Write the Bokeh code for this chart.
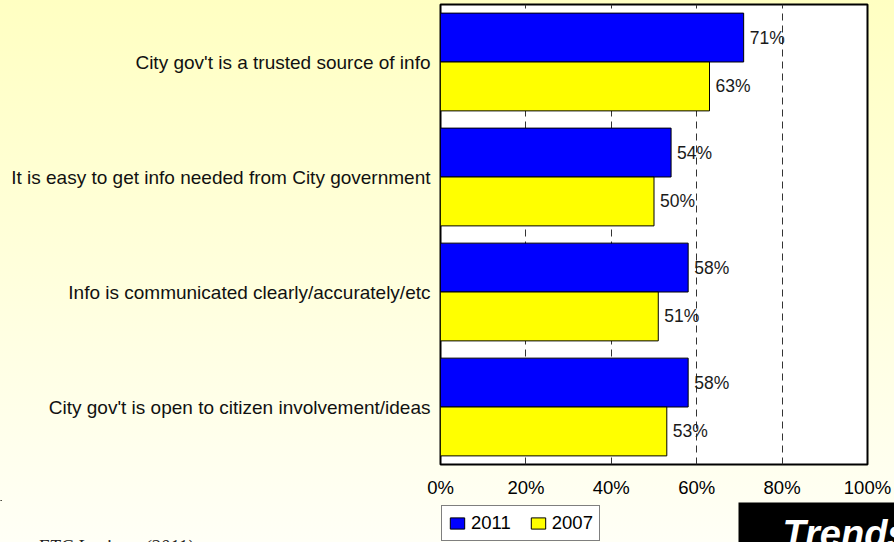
from bokeh.plotting import figure
from bokeh.layouts import column
from bokeh.models import (FactorRange, FixedTicker, PrintfTickFormatter, Legend,
                          LegendItem, Label, BoxAnnotation, ColumnDataSource, Range1d)
from bokeh.transform import dodge
from bokeh.embed import file_html
from bokeh.resources import INLINE

# ---- data ----
categories = [
    "City gov't is open to citizen involvement/ideas",
    "Info is communicated clearly/accurately/etc",
    "It is easy to get info needed from City government",
    "City gov't is a trusted source of info",
]
values_2011 = [58, 58, 54, 71]
values_2007 = [53, 51, 50, 63]
series_names = ["2011", "2007"]
series_colors = ["#0000FF", "#FFFF00"]
x_ticks = [0, 20, 40, 60, 80, 100]
source_note = "Source: ETC Institute (2011)"
badge_text = "Trends"

src = ColumnDataSource(dict(
    cat=categories,
    v2011=values_2011,
    v2007=values_2007,
    l2011=[f"{v}%" for v in values_2011],
    l2007=[f"{v}%" for v in values_2007],
))

W, H1, H2 = 894, 500, 42
FONT = "Liberation Sans"

p = figure(width=W, height=H1, y_range=FactorRange(*categories, range_padding=0),
           x_range=(0, 100), output_backend="svg", toolbar_location=None,
           min_border_left=440, min_border_right=27, min_border_top=4,
           min_border_bottom=30)

p.styles = {"background": "linear-gradient(to bottom, #FFFFC2, #FFFFF2)"}
p.border_fill_color = None
p.background_fill_color = "white"
p.outline_line_color = "black"
p.outline_line_width = 2

bw = 0.425
r1 = p.hbar(y=dodge("cat", bw / 2, range=p.y_range), left=0, right="v2011", height=bw,
            source=src, fill_color=series_colors[0], line_color="black", line_width=1)
r2 = p.hbar(y=dodge("cat", -bw / 2, range=p.y_range), left=0, right="v2007", height=bw,
            source=src, fill_color=series_colors[1], line_color="black", line_width=1)

for col, lab, off in (("v2011", "l2011", bw / 2), ("v2007", "l2007", -bw / 2)):
    p.text(x=col, y=dodge("cat", off, range=p.y_range), text=lab, source=src,
           x_offset=6, text_align="left", text_baseline="middle",
           text_font_size="17.5px", text_color="#1a1a1a")

# axes
p.xaxis.ticker = FixedTicker(ticks=x_ticks)
p.xaxis.formatter = PrintfTickFormatter(format="%d%%")
p.xaxis.axis_line_color = None
p.xaxis.major_tick_line_color = None
p.xaxis.minor_tick_line_color = None
p.xaxis.major_tick_out = 0
p.xaxis.major_label_standoff = 12
p.xaxis.major_label_text_font = FONT
p.xaxis.major_label_text_font_size = "18.5px"
p.xaxis.major_label_text_color = "black"

p.yaxis.axis_line_color = None
p.yaxis.major_tick_line_color = None
p.yaxis.minor_tick_line_color = None
p.yaxis.major_tick_out = 0
p.yaxis.major_label_standoff = 10
p.yaxis.major_label_text_font = FONT
p.yaxis.major_label_text_font_size = "19px"
p.yaxis.major_label_text_color = "#111111"

p.xgrid.grid_line_color = "#333333"
p.xgrid.grid_line_dash = "7 5"
p.xgrid.grid_line_width = 1
p.ygrid.visible = False

# ---- footer strip: legend, badge, source ----
p2 = figure(width=W, height=H2, x_range=Range1d(0, W), y_range=Range1d(H2, 0),
            output_backend="svg", toolbar_location=None,
            x_axis_location=None, y_axis_location=None,
            min_border_left=0, min_border_right=0, min_border_top=0, min_border_bottom=0)
for fig in (p, p2):
    try:
        fig.frame_align = False
    except Exception:
        pass
p2.styles = {"background": "linear-gradient(to bottom, #FFFFF2, #FFFFF6)"}
p2.border_fill_color = None
p2.background_fill_color = None
p2.outline_line_color = None
p2.xgrid.visible = False
p2.ygrid.visible = False

# legend proxies (kept outside the visible strip)
proxy = ColumnDataSource(dict(y=[-1000], l=[0], r=[1]))
lr1 = p2.hbar(y="y", left="l", right="r", height=1, source=proxy,
              fill_color=series_colors[0], line_color="black")
lr2 = p2.hbar(y="y", left="l", right="r", height=1, source=proxy,
              fill_color=series_colors[1], line_color="black")

legend = Legend(items=[LegendItem(label=series_names[0], renderers=[lr1], index=0),
                       LegendItem(label=series_names[1], renderers=[lr2], index=0)],
                orientation="horizontal", location=(441, 1),
                border_line_color="black", border_line_width=1,
                background_fill_color="white", background_fill_alpha=1,
                label_text_font=FONT, label_text_font_size="18.5px",
                label_text_color="black",
                label_height=21, label_text_baseline="middle",
                glyph_width=18, glyph_height=14, label_standoff=5,
                spacing=18, padding=6, margin=0)
p2.add_layout(legend)

p2.add_layout(BoxAnnotation(left=738, right=W + 20, top=2, bottom=H2 + 20,
                            fill_color="black", fill_alpha=1, line_color=None))
p2.add_layout(Label(x=782, y=33, text=badge_text,
                    text_font=FONT, text_font_size="38px", text_font_style="bold italic",
                    text_color="white", text_baseline="alphabetic", text_align="left"))
p2.add_layout(Label(x=-26, y=46, text=source_note,
                    text_font="Liberation Serif", text_font_size="19px",
                    text_font_style="italic", text_color="#222222",
                    text_baseline="alphabetic", text_align="left"))

layout = column(p, p2, spacing=0)
open("out.html", "w").write(file_html(layout, INLINE))
